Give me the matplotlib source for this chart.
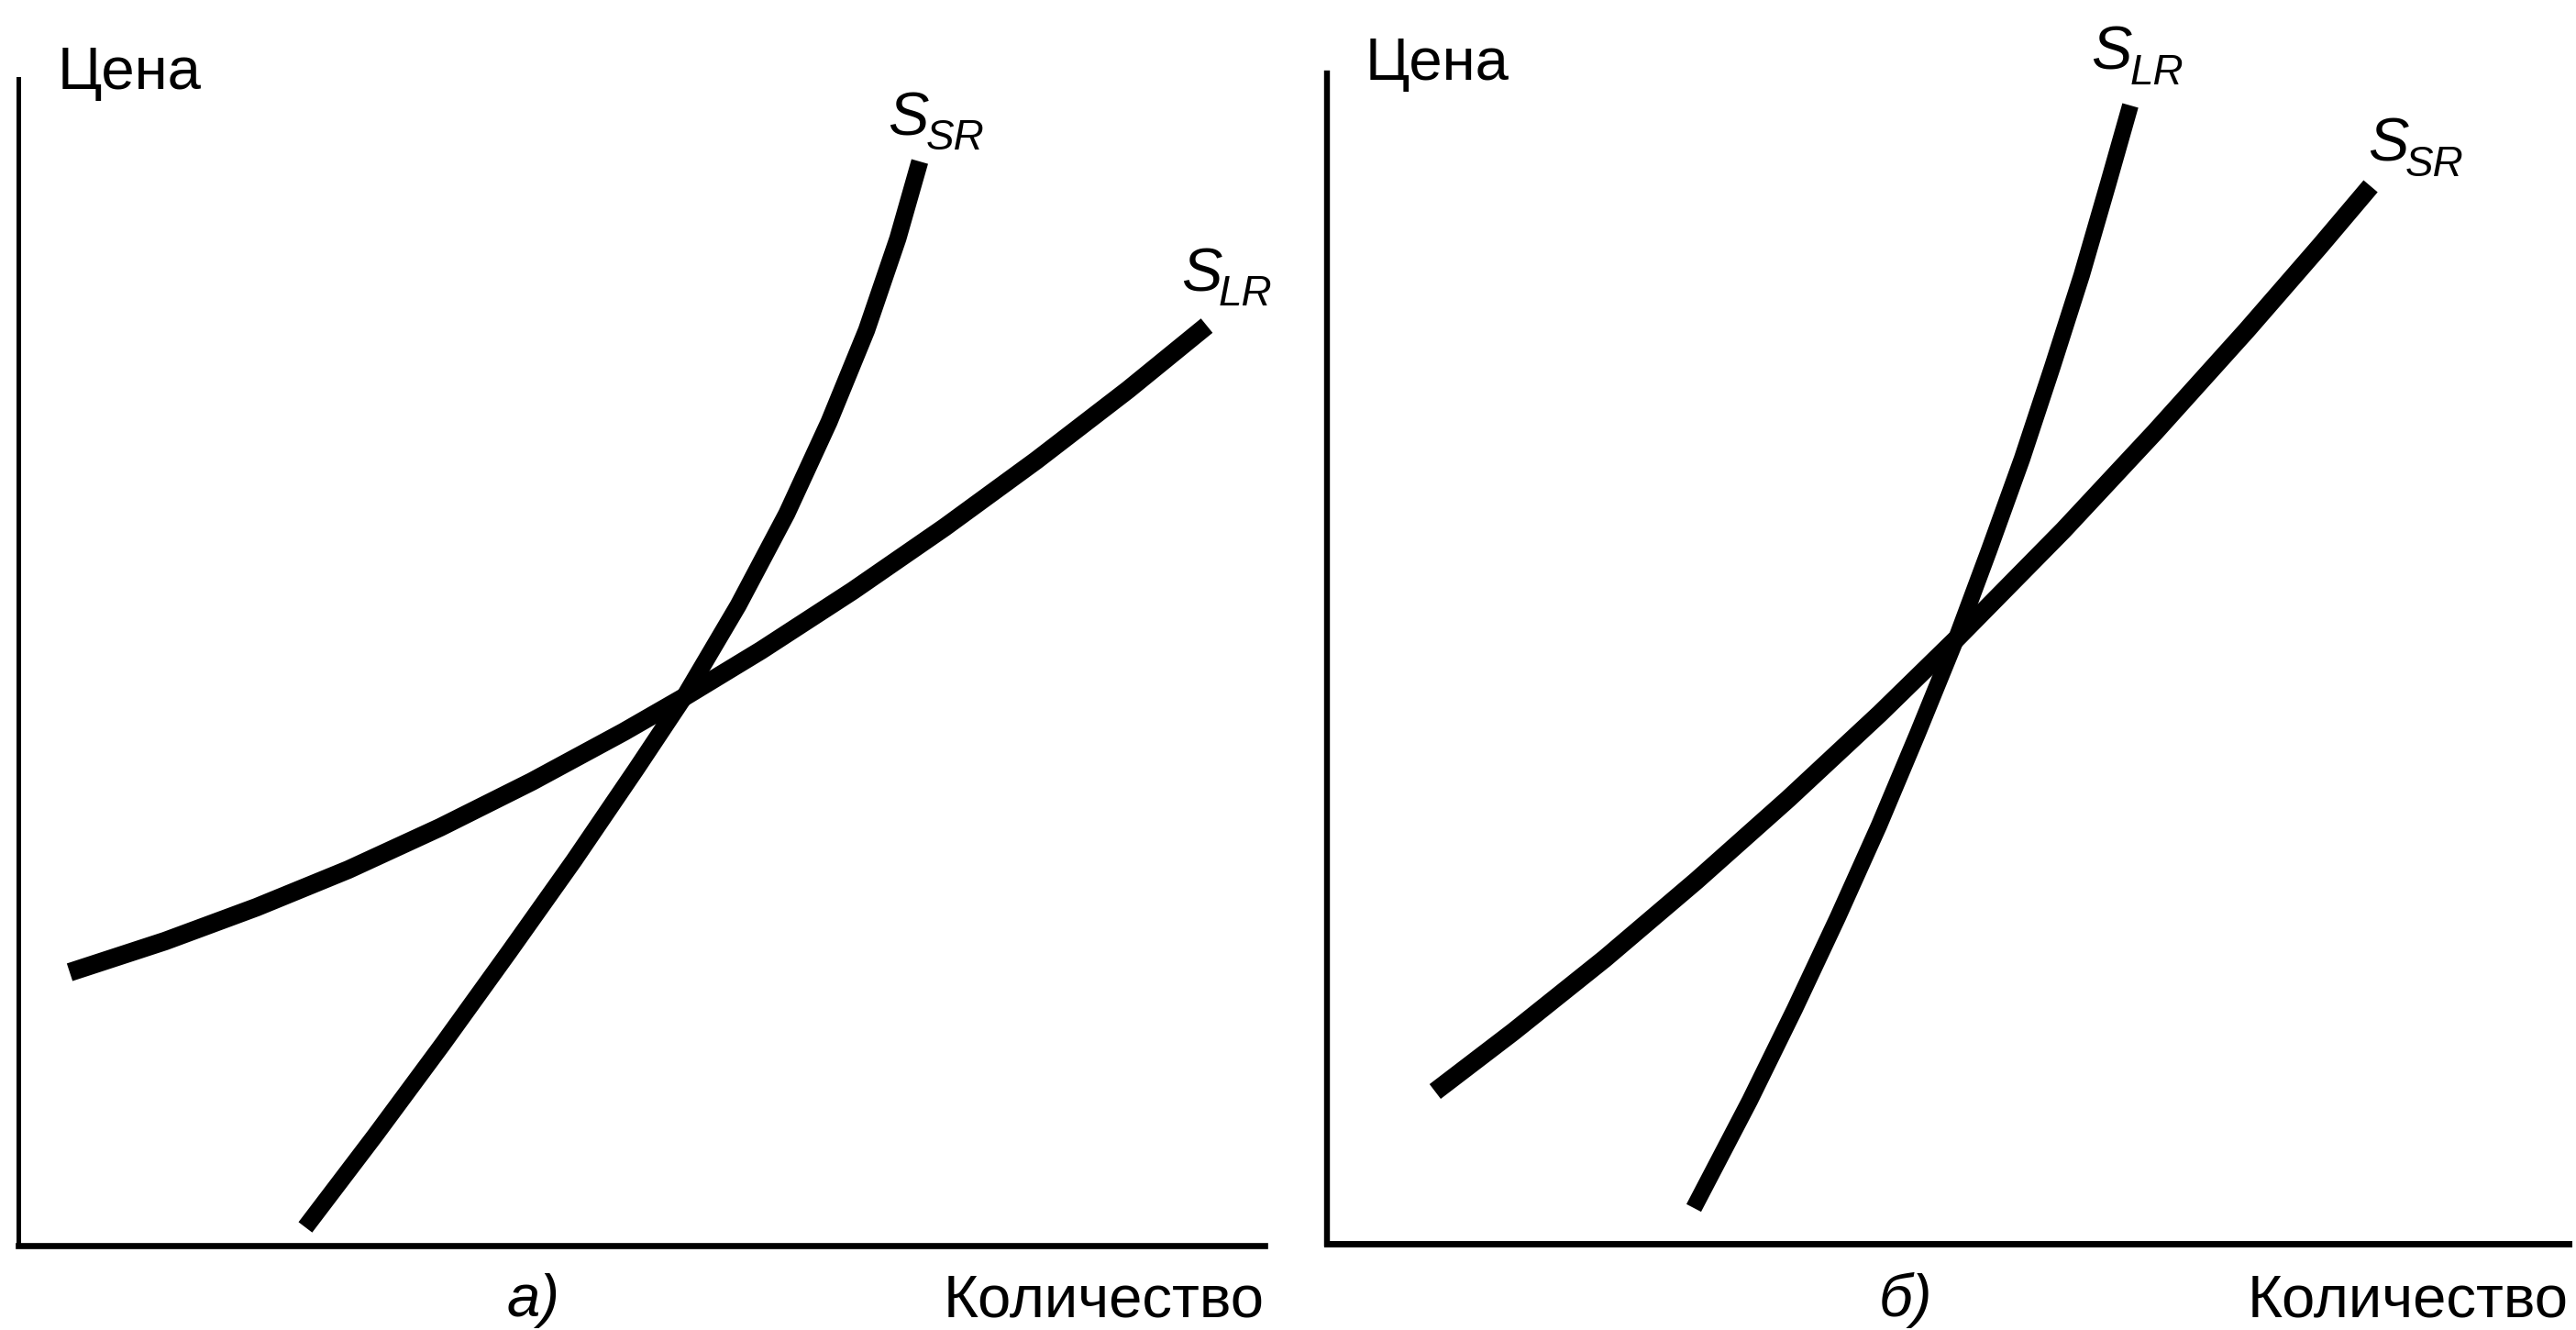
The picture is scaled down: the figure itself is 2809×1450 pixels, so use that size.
import matplotlib
matplotlib.use("Agg")
import matplotlib.pyplot as plt

plt.rcParams['font.family'] = ['Liberation Sans', 'DejaVu Sans']

W, H = 2809, 1450

# ---- data (quantity / price, axis units 0..100) ----
# panel a
a_ssr_q = [23.03, 28.62, 34.07, 39.37, 44.59, 49.60, 53.42, 57.76, 61.66, 65.05, 68.06, 70.57, 72.33]
a_ssr_p = [1.57, 9.43, 17.30, 25.16, 33.02, 40.88, 47.01, 54.87, 62.74, 70.60, 78.46, 86.32, 92.92]
a_slr_q = [4.12, 11.77, 19.13, 26.49, 33.85, 41.21, 48.57, 53.42, 59.60, 66.96, 74.32, 81.68, 89.04, 95.36]
a_slr_p = [23.43, 26.10, 29.01, 32.23, 35.85, 39.78, 44.03, 47.01, 51.02, 56.13, 61.56, 67.30, 73.35, 78.85]
# panel b
b_slr_q = [29.54, 34.05, 37.67, 41.14, 44.46, 47.56, 50.66, 53.32, 55.98, 58.42, 60.78, 62.92, 64.70]
b_slr_p = [3.06, 12.23, 20.06, 27.90, 35.74, 43.57, 51.65, 59.25, 67.08, 74.92, 82.76, 90.60, 97.26]
b_ssr_q = [8.71, 14.99, 22.38, 29.76, 37.15, 44.53, 50.66, 59.31, 66.69, 74.08, 79.99, 84.05]
b_ssr_p = [13.01, 18.10, 24.37, 31.03, 38.01, 45.30, 51.65, 60.97, 69.36, 78.06, 85.27, 90.36]

y_label = "Цена"
x_label = "Количество"
panel_labels = ["а)", "б)"]

fig = plt.figure(figsize=(W / 100, H / 100), dpi=100)
fig.patch.set_facecolor('white')


def add_axes_px(x0, x1, ytop, ybot):
    return fig.add_axes([x0 / W, 1 - ybot / H, (x1 - x0) / W, (ybot - ytop) / H])


def ftext(x, y, s, **kw):
    fig.text(x / W, 1 - y / H, s, **kw)


ax_a = add_axes_px(20, 1379, 86, 1358)
ax_b = add_axes_px(1447, 2801, 80, 1356)

for ax, ylw, xlw in ((ax_a, 3.6, 4.8), (ax_b, 4.6, 5.0)):
    ax.set_xlim(0, 100)
    ax.set_ylim(0, 100)
    ax.spines['top'].set_visible(False)
    ax.spines['right'].set_visible(False)
    ax.spines['left'].set_linewidth(ylw)
    ax.spines['bottom'].set_linewidth(xlw)
    ax.set_xticks([])
    ax.set_yticks([])
    ax.patch.set_alpha(0)

style = dict(color='black', solid_capstyle='butt', solid_joinstyle='round', clip_on=False)
ax_a.plot(a_ssr_q, a_ssr_p, lw=13.5, **style)
ax_a.plot(a_slr_q, a_slr_p, lw=14.5, **style)
ax_b.plot(b_slr_q, b_slr_p, lw=13, **style)
ax_b.plot(b_ssr_q, b_ssr_p, lw=14.5, **style)

# axis titles
ftext(63, 97, y_label, fontsize=47, ha='left', va='baseline')
ftext(1489, 87, y_label, fontsize=47, ha='left', va='baseline')
ftext(1379, 1448, x_label, fontsize=47, ha='right', va='bottom')
ftext(2801, 1448, x_label, fontsize=47, ha='right', va='bottom')
ftext(582, 1448, panel_labels[0], fontsize=47, style='italic', ha='center', va='bottom')
ftext(2078, 1448, panel_labels[1], fontsize=47, style='italic', ha='center', va='bottom')


def curve_label(x, y, sub, xs, ys):
    ftext(x, y, "S", fontsize=48, style='italic', ha='left', va='baseline')
    ftext(xs, ys, sub, fontsize=33, style='italic', ha='left', va='baseline')


curve_label(968, 147, "SR", 1010, 163)
curve_label(1288, 318, "LR", 1329, 333)
curve_label(2280, 75, "LR", 2323, 92)
curve_label(2582, 175, "SR", 2623, 192)

fig.savefig("out.png", dpi=100, facecolor='white')
